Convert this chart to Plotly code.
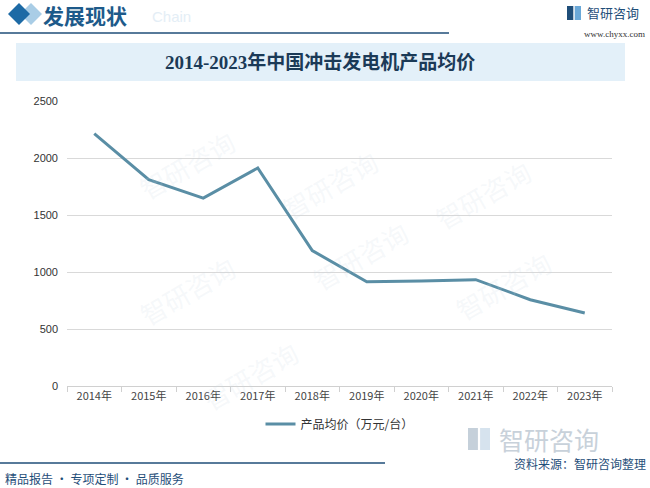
import plotly.graph_objects as go

years = ["2014年", "2015年", "2016年", "2017年", "2018年", "2019年", "2020年", "2021年", "2022年", "2023年"]
avg_price = [2213, 1809, 1648, 1912, 1188, 914, 922, 933, 757, 641]
series_name = "产品均价（万元/台）"
title_text = "2014-2023年中国冲击发电机产品均价"

W, H = 650, 488
L, R, T, B = 67, 612, 101, 386

def px(x):
    return (x - L) / (R - L)

def py(y):
    return (B - y) / (B - T)

fig = go.Figure()
fig.add_trace(go.Scatter(
    x=years, y=avg_price, mode="lines", name=series_name,
    line=dict(color="#5a8ea5", width=3),
))

DARK = "#1f4e79"
CJK = "Noto Sans CJK SC, Noto Sans, sans-serif"

shapes = []
shapes.append(dict(type="rect", xref="paper", yref="paper",
                   x0=px(16), x1=px(625), y0=py(81), y1=py(43),
                   fillcolor="#e3f0f9", line=dict(width=0), layer="below"))
shapes.append(dict(type="line", xref="paper", yref="paper",
                   x0=px(0), x1=px(449), y0=py(33), y1=py(33),
                   line=dict(color=DARK, width=1.5)))
shapes.append(dict(type="line", xref="paper", yref="paper",
                   x0=px(0), x1=px(385), y0=py(463), y1=py(463),
                   line=dict(color=DARK, width=1.5)))

def diamond(cx, cy, r, color):
    pts = [(cx, cy - r), (cx + r, cy), (cx, cy + r), (cx - r, cy)]
    path = "M " + " L ".join(f"{px(a)},{py(b)}" for a, b in pts) + " Z"
    return dict(type="path", xref="paper", yref="paper", path=path,
                fillcolor=color, line=dict(width=0))
shapes.append(diamond(31, 14, 11, "#a9cde6"))
shapes.append(diamond(19, 14, 11, "#1d6aa5"))
for (x0, y0, s, c) in [(567, 6, 14, DARK), (468, 428, 22, "#c5d0da")]:
    shapes.append(dict(type="rect", xref="paper", yref="paper",
                       x0=px(x0), x1=px(x0 + s * 0.45), y0=py(y0 + s), y1=py(y0),
                       fillcolor=c, line=dict(width=0)))
    shapes.append(dict(type="rect", xref="paper", yref="paper",
                       x0=px(x0 + s * 0.55), x1=px(x0 + s), y0=py(y0 + s), y1=py(y0),
                       fillcolor="#6aa8d8" if c == DARK else "#d6e3ee", line=dict(width=0)))

ann = []
ann.append(dict(text="Chain", x=px(150), y=py(17), xref="paper", yref="paper",
                showarrow=False, xanchor="left", yanchor="middle",
                font=dict(family="Arial, Liberation Sans", size=15, color="#e4eef6")))
ann.append(dict(text="<b>发展现状</b>", x=px(41), y=py(15), xref="paper", yref="paper",
                showarrow=False, xanchor="left", yanchor="middle",
                font=dict(family=CJK, size=21, color="#1d5a8a")))
ann.append(dict(text="智研咨询", x=px(585), y=py(13), xref="paper", yref="paper",
                showarrow=False, xanchor="left", yanchor="middle",
                font=dict(family=CJK, size=13, color=DARK)))
ann.append(dict(text="www.chyxx.com", x=px(647), y=py(34), xref="paper", yref="paper",
                showarrow=False, xanchor="right", yanchor="middle",
                font=dict(family="Liberation Serif, serif", size=9, color="#333333")))
ann.append(dict(text="<b>" + title_text + "</b>", x=px(320), y=py(62), xref="paper", yref="paper",
                showarrow=False, xanchor="center", yanchor="middle",
                font=dict(family="Liberation Serif, Noto Sans CJK SC, serif", size=19, color="#1b3a57")))
ann.append(dict(text="智研咨询", x=px(497), y=py(439), xref="paper", yref="paper",
                showarrow=False, xanchor="left", yanchor="middle",
                font=dict(family=CJK, size=25, color="#c8d1da")))
ann.append(dict(text="资料来源：智研咨询整理", x=px(648), y=py(463), xref="paper", yref="paper",
                showarrow=False, xanchor="right", yanchor="middle",
                font=dict(family=CJK, size=12, color=DARK)))
ann.append(dict(text="精品报告 · 专项定制 · 品质服务", x=px(3), y=py(478), xref="paper", yref="paper",
                showarrow=False, xanchor="left", yanchor="middle",
                font=dict(family=CJK, size=12, color=DARK)))
for (wx, wy) in [(130, 120), (330, 140), (540, 150), (130, 290), (360, 300), (560, 330), (250, 420)]:
    ann.append(dict(text="智研咨询", x=px(wx), y=py(wy), xref="paper", yref="paper",
                    showarrow=False, textangle=-30,
                    font=dict(family=CJK, size=26, color="rgba(200,215,228,0.18)")))

fig.update_layout(
    width=W, height=H,
    margin=dict(l=L, r=W - R, t=T, b=H - B),
    paper_bgcolor="white", plot_bgcolor="white",
    shapes=shapes, annotations=ann,
    showlegend=True,
    legend=dict(orientation="h", x=0.5, xanchor="center", y=py(424), yanchor="middle",
                font=dict(family=CJK, size=12, color="#333333"), bgcolor="rgba(0,0,0,0)"),
    xaxis=dict(type="category", range=[-0.5, len(years) - 0.5], showgrid=False,
               showline=True, linecolor="#d0d0d0",
               ticks="outside", tickson="boundaries", ticklen=5, tickcolor="#d0d0d0",
               tickfont=dict(family=CJK, size=11, color="#444444"), fixedrange=True),
    yaxis=dict(range=[0, 2500], dtick=500, showgrid=True, gridcolor="#d9d9d9",
               zeroline=False, showline=False, ticks="",
               tickfont=dict(family="Liberation Sans, Arial", size=11, color="#333333"),
               ticklabelstandoff=8, fixedrange=True),
)

fig.write_html("out.html")
